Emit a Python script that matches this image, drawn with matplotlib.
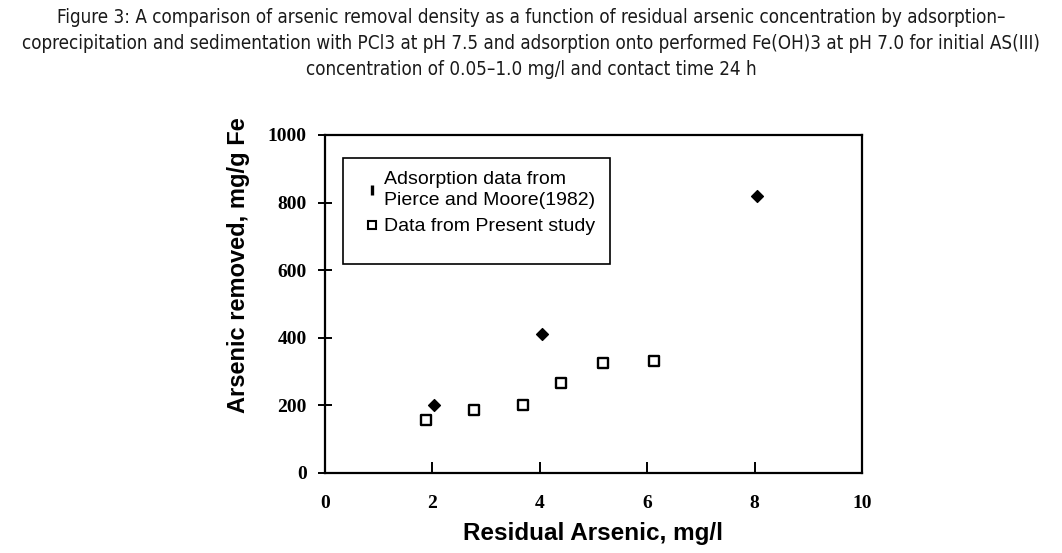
import matplotlib.pyplot as plt
from matplotlib.lines import Line2D
from matplotlib.patches import Rectangle

# Pierce and Moore (1982) adsorption data
pm_x = [2.03, 4.05, 8.05]
pm_y = [201, 410, 820]

# present study
ps_x = [1.88, 2.77, 3.69, 4.39, 5.18, 6.13]
ps_y = [158, 185, 200, 265, 326, 332]

x_ticks = [0, 2, 4, 6, 8, 10]
y_ticks = [0, 200, 400, 600, 800, 1000]

title = ("Figure 3: A comparison of arsenic removal density as a function of residual arsenic concentration by adsorption\u2013\n"
         "coprecipitation and sedimentation with PCl3 at pH 7.5 and adsorption onto performed Fe(OH)3 at pH 7.0 for initial AS(III)\n"
         "concentration of 0.05\u20131.0 mg/l and contact time 24 h")

fig = plt.figure(figsize=(10.62, 5.53), dpi=100)
ax = fig.add_axes([0.306, 0.1447, 0.5057, 0.6112])

ax.scatter(pm_x, pm_y, marker='D', s=36, color='black', zorder=3)
ax.scatter(ps_x, ps_y, marker='s', s=48, facecolor='white', edgecolor='black', linewidth=1.7, zorder=3)

ax.set_xlim(0, 10)
ax.set_ylim(0, 1000)
ax.set_xticks(x_ticks)
ax.set_yticks(y_ticks)
for s in ax.spines.values():
    s.set_linewidth(1.6)
ax.tick_params(axis='x', direction='in', length=8, width=1.4, pad=16)
ax.tick_params(axis='y', direction='inout', length=10, width=1.4, pad=8)
for lab in ax.get_xticklabels() + ax.get_yticklabels():
    lab.set_fontfamily('Liberation Serif')
    lab.set_fontweight('bold')
    lab.set_fontsize(14)

ax.set_xlabel("Residual Arsenic, mg/l", fontfamily='Liberation Sans', fontweight='bold', fontsize=17.5, labelpad=7)
ax.set_ylabel("Arsenic removed, mg/g Fe", fontfamily='Liberation Sans', fontweight='bold', fontsize=17)
ax.yaxis.set_label_coords(-0.14, 0.615)

# legend box
ax.add_patch(Rectangle((0.033, 0.618), 0.497, 0.314, transform=ax.transAxes,
                       facecolor='white', edgecolor='black', linewidth=1.2, zorder=4))
handles = [Line2D([], [], linestyle='none', marker='|', markersize=7, markeredgewidth=2.4, color='black'),
           Line2D([], [], linestyle='none', marker='s', markersize=6, markerfacecolor='white',
                  markeredgecolor='black', markeredgewidth=1.5)]
leg = ax.legend(handles, ["Adsorption data from\nPierce and Moore(1982)", "Data from Present study"],
                loc='upper left', bbox_to_anchor=(0.045, 0.945), frameon=False,
                prop={'family': 'Liberation Sans', 'size': 14}, handlelength=0.6,
                handletextpad=0.3, labelspacing=0.45)
leg.set_zorder(5)
for t in leg.get_texts():
    t.set_linespacing(1.3)

fig.text(0.5, 0.985, title, ha='center', va='top', fontsize=13.5, color='#1a1a1a',
         fontfamily='DejaVu Sans', fontstretch='condensed', linespacing=1.45)

fig.savefig('out.png', dpi=100)
